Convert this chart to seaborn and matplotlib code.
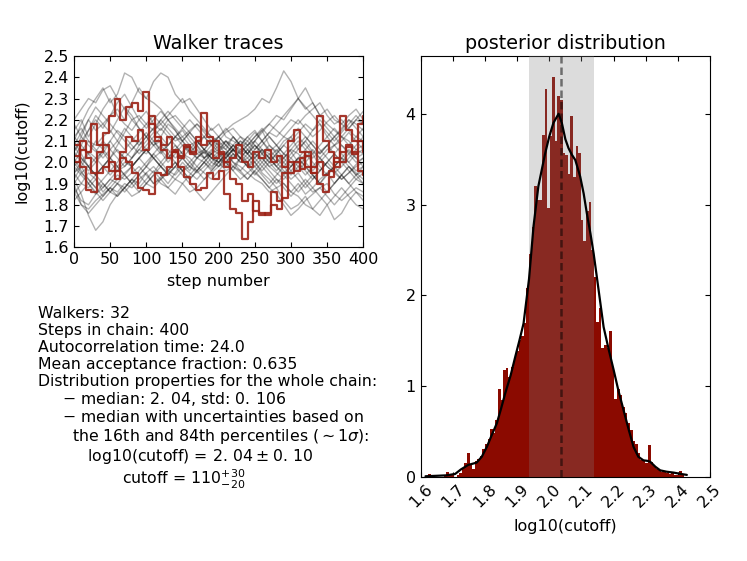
import numpy as np
import pandas as pd
import matplotlib
matplotlib.use("Agg")
import matplotlib.pyplot as plt
import seaborn as sns

# ---------------- data ----------------
# highlighted walkers (sampled every 8 steps)
red_step = 8
red_a = [2.03, 2.10, 2.05, 2.18, 2.08, 2.14, 2.22, 2.30, 2.20, 2.26, 2.28, 2.24, 2.33, 2.18, 2.10, 2.06, 2.02,
         2.05, 1.98, 1.93, 1.90, 1.87, 1.88, 1.95, 1.92, 1.96, 1.85, 1.78, 1.76, 1.64, 1.72, 1.82, 1.76, 1.75,
         1.80, 1.78, 1.83, 1.95, 2.00, 1.97, 2.03, 1.98, 2.00, 1.94, 1.96, 2.02, 2.05, 2.08, 2.04, 2.10, 2.05]
red_b = [2.08, 1.98, 1.87, 1.86, 1.95, 1.98, 2.00, 1.96, 2.05, 2.12, 2.10, 2.15, 2.06, 2.22, 2.12, 2.08, 2.12,
         2.06, 2.03, 2.07, 2.05, 2.10, 2.23, 2.12, 2.10, 2.04, 2.00, 1.92, 1.90, 1.82, 1.85, 1.77, 1.75, 1.76,
         1.86, 1.82, 1.95, 2.10, 2.15, 2.05, 1.98, 1.95, 1.90, 1.86, 1.93, 2.00, 2.22, 2.15, 2.10, 2.18, 2.22]
red_c = [2.00, 2.06, 2.02, 1.95, 2.05, 2.08, 1.96, 1.92, 2.02, 2.00, 1.95, 1.88, 1.87, 1.85, 1.95, 1.94, 1.98,
         2.05, 2.02, 2.08, 2.04, 2.12, 2.08, 2.10, 2.02, 2.05, 1.98, 2.02, 2.08, 2.00, 1.98, 2.05, 2.02, 2.06,
         2.00, 2.03, 1.98, 2.00, 1.96, 2.02, 2.05, 1.95, 2.22, 2.10, 2.05, 1.98, 2.00, 2.07, 2.05, 1.96, 1.94]

# other walkers (sampled every 10 steps)
grey_step = 10
grey_walkers = [
    [2.10, 2.18, 2.25, 2.30, 2.35, 2.28, 2.32, 2.42, 2.40, 2.33, 2.30, 2.28, 2.25, 2.20, 2.15, 2.10, 2.05, 2.08, 2.02, 2.05, 2.10,
     2.06, 2.12, 2.08, 2.04, 2.10, 2.15, 2.08, 2.05, 2.10, 2.12, 2.06, 2.10, 2.15, 2.18, 2.12, 2.08, 2.10, 2.14, 2.10, 2.06],
    [1.92, 1.85, 1.75, 1.68, 1.72, 1.80, 1.85, 1.88, 1.92, 1.90, 1.95, 1.98, 1.94, 1.90, 1.95, 2.00, 1.96, 2.02, 2.05, 2.00, 1.98,
     2.03, 2.06, 2.02, 1.98, 2.00, 1.95, 1.92, 1.88, 1.90, 1.86, 1.90, 1.85, 1.88, 1.92, 1.95, 1.90, 1.94, 1.98, 1.95, 1.92],
    [2.05, 2.12, 2.20, 2.15, 2.18, 2.22, 2.25, 2.20, 2.28, 2.35, 2.30, 2.38, 2.42, 2.40, 2.32, 2.28, 2.30, 2.25, 2.20, 2.15, 2.18,
     2.12, 2.10, 2.08, 2.12, 2.15, 2.10, 2.05, 2.08, 2.12, 2.10, 2.14, 2.18, 2.15, 2.20, 2.16, 2.12, 2.15, 2.20, 2.18, 2.15],
    [2.00, 1.95, 1.98, 2.02, 2.05, 2.00, 1.96, 1.98, 2.02, 2.06, 2.04, 2.08, 2.10, 2.06, 2.02, 2.05, 2.08, 2.10, 2.06, 2.10, 2.12,
     2.15, 2.18, 2.20, 2.22, 2.25, 2.30, 2.28, 2.35, 2.43, 2.38, 2.30, 2.25, 2.28, 2.22, 2.25, 2.20, 2.18, 2.22, 2.25, 2.20],
    [1.95, 1.90, 1.88, 1.92, 1.86, 1.90, 1.94, 1.92, 1.95, 1.98, 1.94, 1.90, 1.93, 1.96, 2.00, 1.96, 1.98, 2.02, 2.00, 1.97, 2.02,
     2.05, 2.00, 1.98, 1.95, 1.92, 1.90, 1.86, 1.88, 1.82, 1.78, 1.80, 1.84, 1.78, 1.75, 1.80, 1.73, 1.76, 1.82, 1.86, 1.84],
    [1.90, 1.80, 1.78, 1.82, 1.85, 1.88, 1.86, 1.90, 1.88, 1.92, 1.95, 1.90, 1.92, 1.88, 1.85, 1.90, 1.86, 1.88, 1.92, 1.95, 1.98,
     2.00, 1.96, 2.02, 2.00, 1.95, 1.92, 1.88, 1.85, 1.80, 1.75, 1.78, 1.82, 1.85, 1.88, 1.90, 1.85, 1.82, 1.85, 1.88, 1.86],
    [2.15, 2.20, 2.12, 2.18, 2.25, 2.30, 2.22, 2.18, 2.15, 2.20, 2.24, 2.18, 2.15, 2.20, 2.22, 2.18, 2.14, 2.10, 2.12, 2.08, 2.05,
     2.10, 2.08, 2.12, 2.10, 2.06, 2.10, 2.14, 2.12, 2.16, 2.20, 2.18, 2.22, 2.25, 2.28, 2.22, 2.18, 2.20, 2.16, 2.20, 2.18],
    [2.02, 2.08, 2.04, 2.00, 2.06, 2.10, 2.05, 2.02, 1.98, 2.02, 2.06, 2.10, 2.05, 2.00, 2.04, 2.08, 2.05, 2.02, 2.06, 2.04, 2.08,
     2.06, 2.02, 2.05, 2.08, 2.04, 2.02, 1.98, 2.00, 2.04, 2.02, 2.06, 2.10, 2.05, 2.02, 2.06, 2.08, 2.04, 2.00, 2.04, 2.06],
    [1.85, 1.90, 1.95, 1.92, 1.88, 1.92, 1.96, 2.00, 1.98, 1.94, 1.98, 2.02, 1.98, 1.95, 1.92, 1.96, 2.00, 2.04, 2.02, 2.06, 2.04,
     2.00, 2.04, 2.02, 1.98, 2.02, 2.06, 2.02, 1.98, 1.95, 1.98, 2.02, 1.98, 1.94, 1.90, 1.95, 1.98, 2.02, 2.00, 1.96, 1.98],
    [2.20, 2.25, 2.30, 2.28, 2.34, 2.36, 2.30, 2.25, 2.20, 2.22, 2.18, 2.15, 2.18, 2.22, 2.26, 2.30, 2.24, 2.20, 2.16, 2.12, 2.08,
     2.10, 2.06, 2.04, 2.08, 2.10, 2.14, 2.18, 2.22, 2.20, 2.25, 2.30, 2.35, 2.28, 2.22, 2.18, 2.15, 2.12, 2.16, 2.20, 2.24],
    [1.98, 1.94, 1.90, 1.85, 1.88, 1.92, 1.90, 1.86, 1.90, 1.94, 1.90, 1.88, 1.92, 1.95, 1.98, 1.94, 1.90, 1.86, 1.82, 1.86, 1.90,
     1.94, 1.98, 1.95, 1.92, 1.96, 2.00, 2.04, 2.00, 1.96, 1.92, 1.95, 1.90, 1.86, 1.88, 1.84, 1.80, 1.84, 1.88, 1.92, 1.90],
    [2.05, 2.00, 1.96, 2.00, 2.04, 2.10, 2.15, 2.12, 2.08, 2.04, 2.08, 2.12, 2.16, 2.12, 2.08, 2.04, 2.02, 1.98, 2.02, 2.04, 2.00,
     2.02, 2.06, 2.10, 2.06, 2.02, 2.06, 2.04, 2.00, 2.02, 2.06, 2.04, 2.00, 1.96, 2.00, 2.04, 2.08, 2.12, 2.10, 2.06, 2.08],
    [1.88, 1.82, 1.80, 1.85, 1.90, 1.86, 1.84, 1.88, 1.92, 1.96, 2.00, 2.04, 2.00, 1.96, 1.94, 1.98, 1.95, 1.92, 1.96, 2.00, 2.04,
     2.02, 1.98, 1.96, 2.00, 2.04, 2.00, 1.96, 1.92, 1.90, 1.86, 1.84, 1.80, 1.78, 1.82, 1.86, 1.90, 1.94, 1.90, 1.86, 1.82],
    [2.12, 2.08, 2.15, 2.22, 2.18, 2.14, 2.20, 2.26, 2.22, 2.16, 2.12, 2.08, 2.12, 2.18, 2.15, 2.10, 2.14, 2.18, 2.15, 2.12, 2.10,
     2.14, 2.16, 2.12, 2.08, 2.12, 2.15, 2.18, 2.15, 2.12, 2.16, 2.20, 2.16, 2.12, 2.15, 2.19, 2.22, 2.18, 2.15, 2.12, 2.10],
    [1.95, 2.00, 2.05, 2.02, 1.98, 1.94, 1.98, 2.02, 2.06, 2.10, 2.06, 2.02, 2.05, 2.08, 2.12, 2.10, 2.06, 2.02, 2.05, 2.02, 2.00,
     2.04, 2.08, 2.06, 2.10, 2.14, 2.10, 2.06, 2.02, 1.98, 1.94, 1.98, 2.02, 2.06, 2.02, 1.98, 1.95, 1.98, 2.02, 2.06, 2.04],
    [2.08, 2.02, 1.98, 1.94, 1.90, 1.86, 1.90, 1.88, 1.84, 1.86, 1.90, 1.94, 1.90, 1.88, 1.92, 1.90, 1.94, 1.98, 1.95, 1.92, 1.96,
     2.00, 2.04, 2.00, 2.02, 1.98, 1.94, 1.90, 1.94, 1.98, 2.02, 1.98, 1.94, 1.98, 2.02, 1.98, 1.95, 1.92, 1.95, 1.98, 2.00],
    [2.00, 2.05, 2.10, 2.08, 2.12, 2.15, 2.10, 2.06, 2.10, 2.14, 2.18, 2.22, 2.18, 2.14, 2.10, 2.12, 2.08, 2.04, 2.06, 2.02, 2.05,
     2.08, 2.04, 2.00, 2.04, 2.08, 2.05, 2.02, 1.98, 2.02, 2.06, 2.10, 2.06, 2.02, 2.05, 2.08, 2.12, 2.08, 2.05, 2.02, 2.04],
    [1.90, 1.95, 1.92, 1.88, 1.92, 1.96, 2.00, 2.05, 2.02, 2.08, 2.12, 2.08, 2.04, 2.08, 2.12, 2.15, 2.10, 2.06, 2.02, 1.98, 2.02,
     2.00, 1.96, 1.92, 1.95, 1.98, 2.02, 1.98, 1.95, 1.92, 1.96, 1.92, 1.88, 1.92, 1.96, 2.00, 2.04, 2.00, 1.96, 1.92, 1.95],
    [2.18, 2.12, 2.08, 2.05, 2.10, 2.06, 2.02, 1.98, 2.02, 2.06, 2.10, 2.14, 2.20, 2.24, 2.20, 2.16, 2.12, 2.08, 2.04, 2.08, 2.12,
     2.08, 2.05, 2.08, 2.12, 2.08, 2.04, 2.00, 2.04, 2.08, 2.12, 2.16, 2.12, 2.08, 2.04, 2.08, 2.12, 2.16, 2.20, 2.16, 2.12],
    [1.95, 1.98, 1.92, 1.88, 1.84, 1.88, 1.92, 1.95, 1.98, 2.02, 1.98, 1.95, 2.00, 2.04, 2.08, 2.04, 2.00, 1.96, 2.00, 2.04, 2.02,
     1.98, 2.02, 2.06, 2.04, 2.00, 1.96, 2.00, 2.04, 2.08, 2.05, 2.00, 1.96, 1.92, 1.96, 2.00, 1.96, 1.92, 1.95, 1.99, 2.02],
    [2.08, 2.14, 2.20, 2.26, 2.22, 2.18, 2.14, 2.10, 2.06, 2.10, 2.14, 2.10, 2.06, 2.02, 2.06, 2.10, 2.14, 2.10, 2.06, 2.10, 2.06,
     2.02, 2.06, 2.10, 2.08, 2.12, 2.16, 2.12, 2.08, 2.04, 2.08, 2.12, 2.08, 2.04, 2.08, 2.12, 2.16, 2.12, 2.08, 2.12, 2.16],
    [1.82, 1.86, 1.90, 1.86, 1.82, 1.86, 1.90, 1.94, 1.90, 1.86, 1.90, 1.94, 1.98, 1.94, 1.98, 2.02, 1.98, 1.95, 1.98, 2.02, 2.00,
     1.96, 1.98, 2.02, 2.06, 2.02, 1.98, 1.94, 1.90, 1.94, 1.90, 1.86, 1.90, 1.94, 1.90, 1.86, 1.90, 1.94, 1.98, 1.94, 1.90],
    [2.05, 2.10, 2.15, 2.20, 2.16, 2.22, 2.28, 2.32, 2.26, 2.20, 2.16, 2.20, 2.24, 2.20, 2.16, 2.12, 2.15, 2.18, 2.14, 2.10, 2.08,
     2.04, 2.08, 2.05, 2.02, 2.06, 2.10, 2.14, 2.18, 2.22, 2.26, 2.30, 2.26, 2.22, 2.18, 2.14, 2.10, 2.14, 2.18, 2.22, 2.18],
    [1.98, 2.02, 1.98, 1.94, 1.98, 2.02, 2.06, 2.02, 1.98, 2.02, 2.06, 2.02, 1.98, 2.02, 2.06, 2.02, 1.98, 1.96, 2.00, 2.04, 2.06,
     2.10, 2.06, 2.02, 2.06, 2.10, 2.06, 2.02, 2.06, 2.02, 1.98, 2.02, 2.06, 2.10, 2.06, 2.02, 1.98, 2.02, 2.06, 2.02, 1.98],
    [1.86, 1.80, 1.76, 1.80, 1.84, 1.88, 1.84, 1.88, 1.92, 1.88, 1.92, 1.96, 1.92, 1.96, 2.00, 1.96, 1.92, 1.96, 2.00, 1.96, 2.00,
     2.04, 2.00, 1.96, 1.92, 1.96, 1.92, 1.88, 1.92, 1.88, 1.84, 1.88, 1.92, 1.88, 1.84, 1.80, 1.84, 1.88, 1.84, 1.80, 1.78],
    [2.12, 2.16, 2.10, 2.06, 2.02, 2.06, 2.10, 2.16, 2.12, 2.08, 2.12, 2.16, 2.20, 2.16, 2.12, 2.16, 2.20, 2.16, 2.12, 2.08, 2.12,
     2.16, 2.12, 2.08, 2.04, 2.08, 2.04, 2.00, 1.96, 2.00, 2.04, 2.08, 2.12, 2.08, 2.04, 2.08, 2.04, 2.00, 2.04, 2.08, 2.12],
    [2.02, 1.96, 1.90, 1.94, 1.98, 2.02, 1.98, 1.94, 1.90, 1.94, 1.98, 2.04, 2.08, 2.04, 2.00, 1.96, 1.92, 1.96, 1.92, 1.96, 2.00,
     2.04, 2.08, 2.04, 2.00, 2.04, 2.08, 2.12, 2.08, 2.04, 2.00, 1.96, 2.00, 2.04, 1.98, 1.94, 1.98, 2.02, 1.98, 1.94, 1.96],
    [1.92, 1.98, 2.04, 2.10, 2.06, 2.02, 2.08, 2.14, 2.20, 2.16, 2.12, 2.16, 2.12, 2.08, 2.12, 2.08, 2.04, 2.08, 2.12, 2.16, 2.12,
     2.08, 2.12, 2.08, 2.04, 2.00, 2.04, 2.08, 2.04, 2.00, 1.96, 2.00, 2.04, 2.00, 1.96, 2.00, 2.04, 2.08, 2.04, 2.00, 2.02],
    [2.10, 2.04, 1.98, 1.94, 1.98, 2.02, 1.98, 1.94, 1.98, 2.02, 2.06, 2.02, 1.98, 1.94, 1.98, 2.02, 2.06, 2.10, 2.06, 2.02, 1.98,
     2.02, 2.06, 2.02, 1.98, 1.94, 1.98, 2.02, 1.98, 1.94, 1.98, 2.02, 1.98, 1.94, 1.90, 1.94, 1.98, 1.94, 1.90, 1.94, 1.98],
]

# posterior histogram (density per bin)
hist_lo, hist_hi = 1.615, 2.42
hist_heights = [
    0.00, 0.03, 0.01, 0.00, 0.00, 0.00, 0.00, 0.01, 0.05, 0.02,
    0.03, 0.00, 0.02, 0.04, 0.10, 0.15, 0.26, 0.13, 0.09, 0.17,
    0.20, 0.23, 0.30, 0.36, 0.42, 0.53, 0.48, 0.62, 0.97, 0.85,
    1.18, 1.20, 1.10, 1.21, 1.32, 1.38, 1.51, 1.55, 1.69, 2.08,
    2.45, 2.75, 3.20, 3.05, 3.05, 3.77, 4.27, 2.96, 3.75, 4.41,
    3.70, 4.20, 4.15, 3.57, 3.55, 3.34, 3.97, 3.30, 3.64, 3.57,
    2.83, 2.60, 2.93, 3.03, 2.50, 2.20, 1.70, 1.86, 1.42, 1.45,
    1.42, 1.61, 1.20, 0.86, 0.97, 0.90, 0.77, 0.70, 0.59, 0.52,
    0.39, 0.36, 0.26, 0.18, 0.17, 0.15, 0.35, 0.16, 0.12, 0.09,
    0.07, 0.05, 0.06, 0.04, 0.03, 0.05, 0.02, 0.02, 0.06, 0.02,
]

# KDE curve
kde_x = [1.615, 1.650, 1.680, 1.707, 1.725, 1.748, 1.774, 1.790, 1.806, 1.820, 1.837, 1.850, 1.863, 1.880,
         1.894, 1.907, 1.920, 1.937, 1.951, 1.966, 1.987, 2.000, 2.013, 2.029, 2.039, 2.050, 2.060, 2.070,
         2.081, 2.096, 2.107, 2.117, 2.128, 2.138, 2.148, 2.169, 2.185, 2.200, 2.215, 2.231, 2.247, 2.262,
         2.277, 2.293, 2.305, 2.314, 2.330, 2.345, 2.365, 2.387, 2.410, 2.428]
kde_y = [0.005, 0.010, 0.015, 0.030, 0.080, 0.130, 0.155, 0.220, 0.330, 0.450, 0.590, 0.750, 0.920, 1.120,
         1.320, 1.500, 1.690, 2.180, 2.760, 3.200, 3.560, 3.750, 3.900, 4.000, 3.900, 3.720, 3.620, 3.550,
         3.490, 3.310, 3.120, 2.900, 2.680, 2.460, 2.200, 1.650, 1.400, 1.180, 0.950, 0.735, 0.520, 0.330,
         0.220, 0.180, 0.175, 0.165, 0.110, 0.070, 0.055, 0.045, 0.030, 0.020]

median_val = 2.037
p16, p84 = 1.937, 2.140

trace_yticks = [1.6, 1.7, 1.8, 1.9, 2.0, 2.1, 2.2, 2.3, 2.4, 2.5]
trace_xticks = [0, 50, 100, 150, 200, 250, 300, 350, 400]
post_xticks = [1.6, 1.7, 1.8, 1.9, 2.0, 2.1, 2.2, 2.3, 2.4, 2.5]
post_yticks = [0, 1, 2, 3, 4]

info_lines = [
    "Walkers: 32",
    "Steps in chain: 400",
    "Autocorrelation time: 24.0",
    "Mean acceptance fraction: 0.635",
    "Distribution properties for the whole chain:",
    r"$-$ median: $2.\,04$, std: $0.\,106$",
    r"$-$ median with uncertainties based on",
    r"the 16th and 84th percentiles ($\sim1\sigma$):",
    r"log10(cutoff) = $2.\,04 \pm 0.\,10$",
    r"cutoff = $110_{-20}^{+30}$",
]

# ---------------- style ----------------
sns.set_style("ticks")
FS = 11.3
plt.rcParams.update({
    "font.family": ["DejaVu Sans"],
    "mathtext.fontset": "dejavusans",
    "xtick.direction": "in", "ytick.direction": "in",
    "xtick.top": True, "ytick.right": True,
    "xtick.major.size": 3.5, "ytick.major.size": 3.5,
    "xtick.major.width": 0.8, "ytick.major.width": 0.8,
    "xtick.color": "black", "ytick.color": "black",
    "axes.edgecolor": "black", "axes.linewidth": 0.8,
    "font.size": FS, "xtick.labelsize": 11.5, "ytick.labelsize": 11.5,
    "axes.labelsize": 11.5, "axes.titlesize": 13.8,
    "text.color": "black", "axes.labelcolor": "black",
})

W, H = 747, 561
fig = plt.figure(figsize=(W / 100, H / 100), dpi=100)

# ---------------- walker traces ----------------
ax1 = fig.add_axes([74 / W, 1 - 247.3 / H, 289.3 / W, 191.3 / H])

grey_rows = []
for k, tr in enumerate(grey_walkers):
    for j, v in enumerate(tr):
        grey_rows.append((k, j * grey_step, v))
df_grey = pd.DataFrame(grey_rows, columns=["walker", "step", "value"])

red_rows = []
for k, tr in enumerate([red_a, red_b, red_c]):
    for j, v in enumerate(tr):
        red_rows.append((k, j * red_step, v))
df_red = pd.DataFrame(red_rows, columns=["walker", "step", "value"])

sns.lineplot(data=df_grey, x="step", y="value", units="walker", estimator=None,
             color="k", alpha=0.3, lw=1.0, ax=ax1, legend=False)
sns.lineplot(data=df_red, x="step", y="value", units="walker", estimator=None,
             color="#9c2216", alpha=0.9, lw=1.6, drawstyle="steps-post", ax=ax1, legend=False)

ax1.set_xlim(0, 400)
ax1.set_ylim(1.6, 2.5)
ax1.set_xticks(trace_xticks)
ax1.set_yticks(trace_yticks)
ax1.set_yticklabels([f"{v:.1f}" for v in trace_yticks])
ax1.set_xlabel("step number", labelpad=5)
ax1.set_ylabel("log10(cutoff)")
ax1.yaxis.set_label_coords(-0.155, 0.5)
ax1.set_title("Walker traces", pad=5)

# ---------------- posterior ----------------
ax2 = fig.add_axes([420.7 / W, 1 - 476.7 / H, 289.3 / W, 421 / H])
edges = [float(e) for e in np.linspace(hist_lo, hist_hi, len(hist_heights) + 1)]
centers = [0.5 * (a + b) for a, b in zip(edges[:-1], edges[1:])]
df_hist = pd.DataFrame({"x": centers, "w": hist_heights})
sns.histplot(data=df_hist, x="x", weights="w", bins=edges, stat="count",
             color="#8b0a00", alpha=1.0, edgecolor="none", linewidth=0, ax=ax2)
ax2.axvspan(p16, p84, color="gray", alpha=0.27, lw=0, zorder=3)
sns.lineplot(x=kde_x, y=kde_y, color="k", lw=1.6, ax=ax2, zorder=5)
ax2.axvline(median_val, color="k", alpha=0.5, ls=(0, (3, 1.6)), lw=1.8, zorder=6)

ax2.set_xlim(1.6, 2.5)
ax2.set_ylim(0, 4.64)
ax2.set_xticks(post_xticks)
ax2.set_xticklabels([f"{v:.1f}" for v in post_xticks], rotation=45)
ax2.set_yticks(post_yticks)
ax2.set_ylabel("")
ax2.set_xlabel("log10(cutoff)", labelpad=6)
ax2.set_title("posterior distribution", pad=5)

# ---------------- info text ----------------
text_x = [38.3, 38.3, 38.3, 38.3, 38.3, 62.0, 62.0, 71.7, 87.0, 121.7]
text_y = [318.5, 335.5, 352.0, 369.0, 386.0, 404.0, 422.0, 440.5, 460.7, 484.5]
for s, x, y in zip(info_lines, text_x, text_y):
    fig.text(x / W, 1 - y / H, s, ha="left", va="baseline", fontsize=FS)

fig.savefig("out.png", dpi=100)
